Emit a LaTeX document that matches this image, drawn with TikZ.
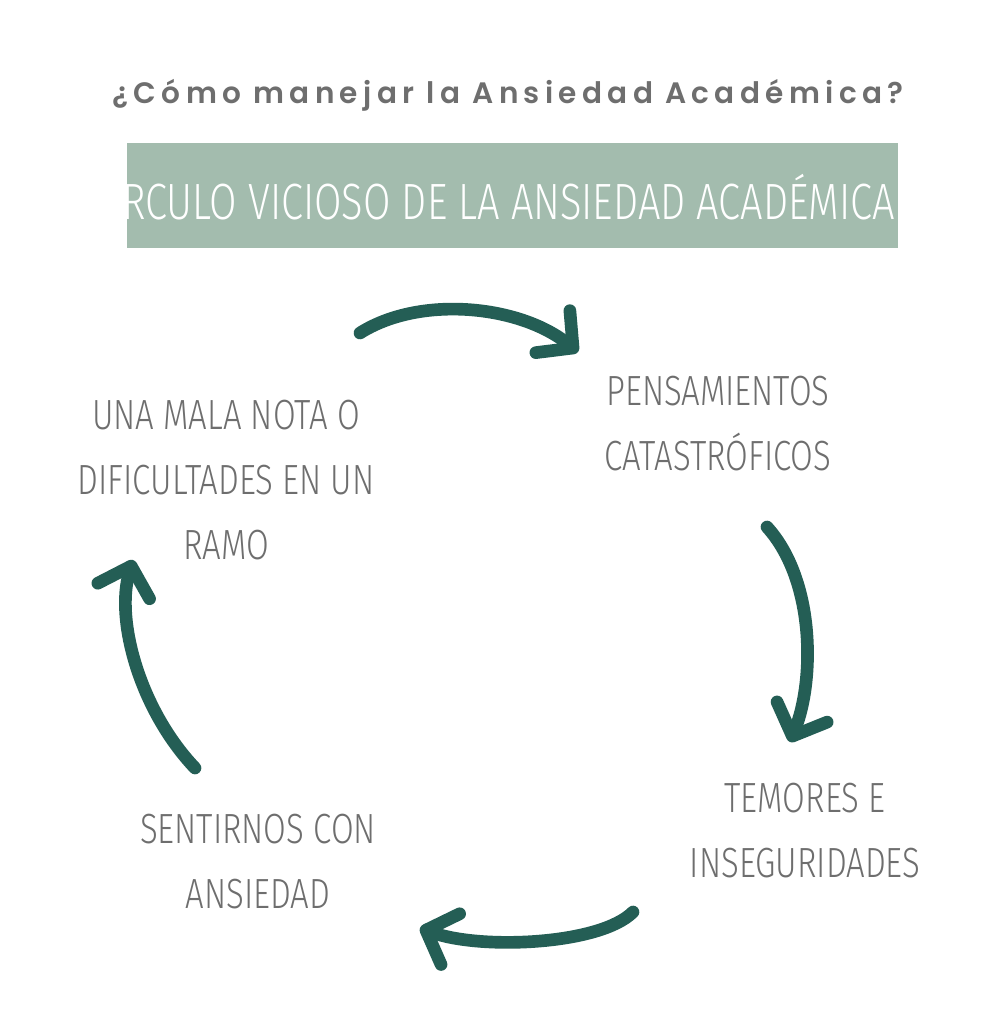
\documentclass[tikz,border=0pt]{standalone}
\usepackage{fontspec}
\setmainfont{Fira Sans Light}
\newfontfamily\titlefont[LetterSpace=18]{Poppins SemiBold}
\usetikzlibrary{arrows.meta}
\definecolor{banner}{HTML}{A3BCAE}
\definecolor{teal}{HTML}{245E55}
\definecolor{txtgray}{HTML}{6E6E6E}
\tikzset{
  label/.style={text=txtgray, align=center, font=\fontsize{12}{18.5}\selectfont, xscale=0.78},
  cycle/.style={teal, line width=3.6pt, line cap=round,
    -{Straight Barb[length=2.6mm, width=5.4mm, line width=3.6pt, round]}}
}
\begin{document}
\begin{tikzpicture}[x=0.01cm,y=-0.01cm]
  \useasboundingbox[fill=white] (0,0) rectangle (993,1024);

  \node (title) at (508,95) {\titlefont\color{txtgray}\fontsize{8.4}{10}\selectfont ¿Cómo manejar la Ansiedad Académica?};
  \fill[banner] (127,143) rectangle (898,248);
  \node[text=white, font=\fontsize{14.5}{17}\selectfont, xscale=0.78] (banner) at (492,197) {CÍRCULO VICIOSO DE LA ANSIEDAD ACADÉMICA};

  \node[label] (pens) at (718,424) {PENSAMIENTOS\\CATASTRÓFICOS};
  \node[label] (temo) at (805,831) {TEMORES E\\INSEGURIDADES};
  \node[label] (sent) at (258,862) {SENTIRNOS CON\\ANSIEDAD};
  \node[label] (nota) at (226,480) {UNA MALA NOTA O\\DIFICULTADES EN UN\\RAMO};

  % arrows of the cycle
  \coordinate (a1) at (360,333);  \coordinate (b1) at (578,352);
  \coordinate (a2) at (767,527);  \coordinate (b2) at (790,742);
  \coordinate (a3) at (633,912);  \coordinate (b3) at (420,928);
  \coordinate (a4) at (195,768);  \coordinate (b4) at (133,560);
  \draw[cycle] (a1) .. controls (420,295) and (520,305) .. (b1);
  \draw[cycle] (a2) .. controls (815,580) and (815,680) .. (b2);
  \draw[cycle] (a3) .. controls (600,945) and (480,950) .. (b3);
  \draw[cycle] (a4) .. controls (140,710) and (115,620) .. (b4);
\end{tikzpicture}
\end{document}
